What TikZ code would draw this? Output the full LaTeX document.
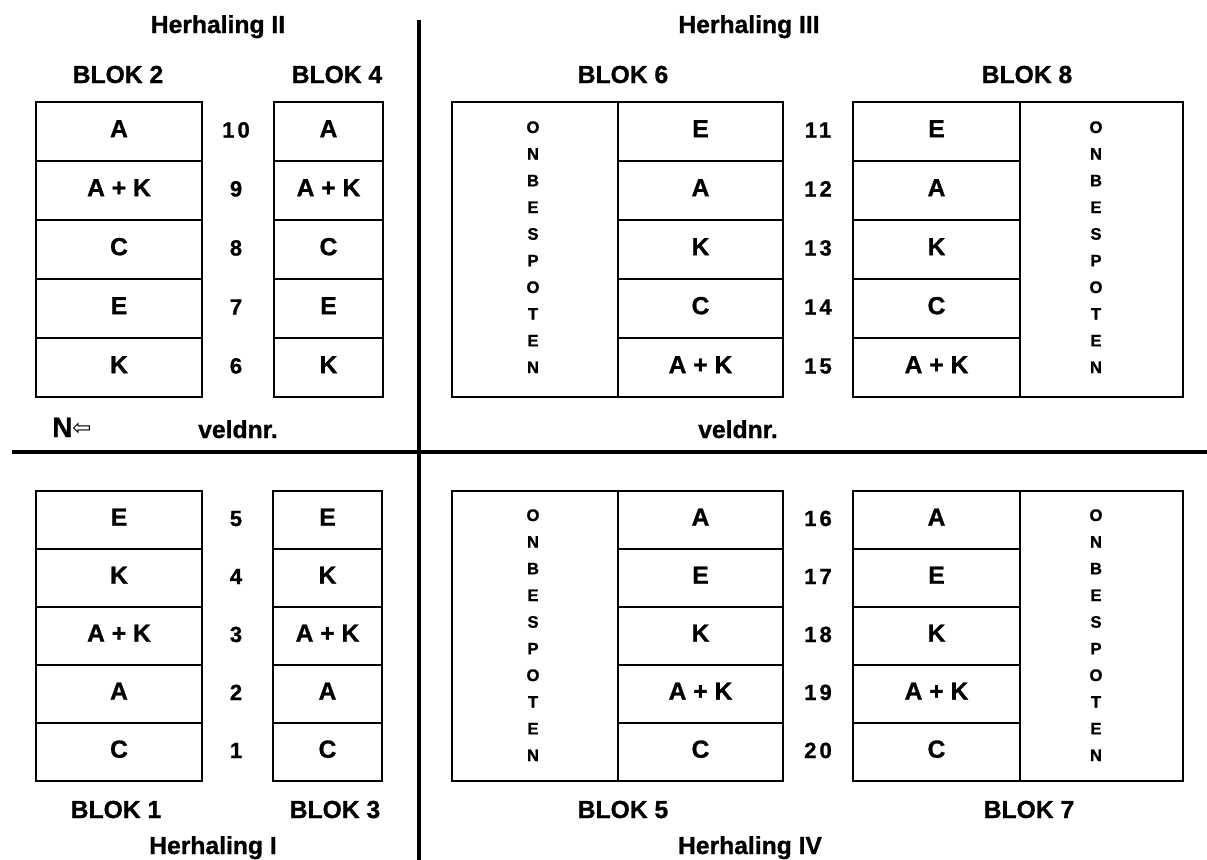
\documentclass[tikz,border=0pt]{standalone}
\usepackage{fontspec}
\setmainfont{Liberation Sans}[BoldFeatures={FakeBold=1}]
\newfontfamily\numfont{Liberation Sans}[BoldFeatures={FakeBold=1,LetterSpace=14}]
\newfontfamily\dejavu{DejaVu Sans}
\begin{document}
\begin{tikzpicture}[x=0.75pt,y=-0.75pt,
  cell/.style={draw, line width=2pt, inner sep=0pt, text height=13pt, text depth=4.5pt, font=\fontsize{18.5}{20}\selectfont\bfseries},
  wide/.style={minimum width=124.5pt},
  narrow/.style={minimum width=81.75pt},
  rowt/.style={minimum height=44.25pt},
  rowb/.style={minimum height=43.5pt},
  lbl/.style={anchor=base, inner sep=0pt, font=\fontsize{18.5}{20}\selectfont\bfseries},
  num/.style={anchor=base, inner sep=0pt, font=\numfont\fontsize{16.5}{18}\selectfont\bfseries},
  letter/.style={anchor=base, inner sep=0pt, font=\fontsize{12.5}{14}\selectfont\bfseries},
  sep/.style={line width=3pt},
]
\useasboundingbox (0,0) rectangle (1207,860);

% separator lines
\coordinate (vt) at (419,20);
\coordinate (vb) at (419,860);
\coordinate (hl) at (12,452);
\coordinate (hr) at (1207,452);
\draw[sep] (vt) -- (vb);
\draw[sep] (hl) -- (hr);

% headings
\node[lbl] (h2) at (218,33) {Herhaling II};
\node[lbl] (h3) at (749,33) {Herhaling III};
\node[lbl] (h1) at (213,854) {Herhaling I};
\node[lbl] (h4) at (750,854) {Herhaling IV};
\node[lbl] (l2) at (118,83) {BLOK 2};
\node[lbl] (l4) at (337,83) {BLOK 4};
\node[lbl] (l6) at (623,83) {BLOK 6};
\node[lbl] (l8) at (1027,83) {BLOK 8};
\node[lbl] (l1) at (116,818) {BLOK 1};
\node[lbl] (l3) at (335,818) {BLOK 3};
\node[lbl] (l5) at (623,818) {BLOK 5};
\node[lbl] (l7) at (1029,818) {BLOK 7};
\node[lbl] (v1) at (238,438) {veldnr.};
\node[lbl] (v2) at (738,438) {veldnr.};
\node[anchor=base west, inner sep=0pt, font=\fontsize{21}{22}\selectfont\bfseries] (north) at (52,437) {N\raisebox{1pt}{\dejavu\mdseries\fontsize{17}{18}\selectfont ⇦}};

% top left: blok 2 and blok 4
\foreach \t [count=\i] in {A,{A + K},C,E,K} {
  \node[cell,wide,rowt] (b2-\i) at (119,{102+59*\i-29.5}) {\t};
  \node[cell,narrow,rowt] (b4-\i) at (328.5,{102+59*\i-29.5}) {\t};
}
\foreach \n [count=\i] in {10,9,8,7,6}
  \node[num] (n\n) at (236,{102+59*\i-29.5+6}) {\n};

% bottom left: blok 1 and blok 3
\foreach \t [count=\i] in {E,K,{A + K},A,C} {
  \node[cell,wide,rowb] (b1-\i) at (119,{491+58*\i-29}) {\t};
  \node[cell,narrow,rowb] (b3-\i) at (327.5,{491+58*\i-29}) {\t};
}
\foreach \n [count=\i] in {5,4,3,2,1}
  \node[num] (n\n) at (236,{491+58*\i-29+6}) {\n};

% top right: blok 6 and blok 8
\node[cell,minimum width=124.5pt,minimum height=221.25pt] (b6-o) at (535,249.5) {};
\node[cell,minimum width=122.25pt,minimum height=221.25pt] (b8-o) at (1101.5,249.5) {};
\foreach \t [count=\i] in {E,A,K,C,{A + K}} {
  \node[cell,minimum width=123.75pt,rowt] (b6-\i) at (700.5,{102+59*\i-29.5}) {\t};
  \node[cell,minimum width=125.25pt,rowt] (b8-\i) at (936.5,{102+59*\i-29.5}) {\t};
}
\foreach \n [count=\i] in {11,12,13,14,15}
  \node[num] (n\n) at (818,{102+59*\i-29.5+6}) {\n};

% bottom right: blok 5 and blok 7
\node[cell,minimum width=124.5pt,minimum height=217.5pt] (b5-o) at (535,636) {};
\node[cell,minimum width=122.25pt,minimum height=217.5pt] (b7-o) at (1101.5,636) {};
\foreach \t [count=\i] in {A,E,K,{A + K},C} {
  \node[cell,minimum width=123.75pt,rowb] (b5-\i) at (700.5,{491+58*\i-29}) {\t};
  \node[cell,minimum width=125.25pt,rowb] (b7-\i) at (936.5,{491+58*\i-29}) {\t};
}
\foreach \n [count=\i] in {16,17,18,19,20}
  \node[num] (n\n) at (818,{491+58*\i-29+6}) {\n};

% ONBESPOTEN
\foreach \c [count=\i] in {O,N,B,E,S,P,O,T,E,N} {
  \node[letter] (o6-\i) at (533,{127+26.67*(\i-1)+6}) {\c};
  \node[letter] (o8-\i) at (1096,{127+26.67*(\i-1)+6}) {\c};
  \node[letter] (o5-\i) at (533,{515+26.67*(\i-1)+6}) {\c};
  \node[letter] (o7-\i) at (1096,{515+26.67*(\i-1)+6}) {\c};
}
\end{tikzpicture}
\end{document}
